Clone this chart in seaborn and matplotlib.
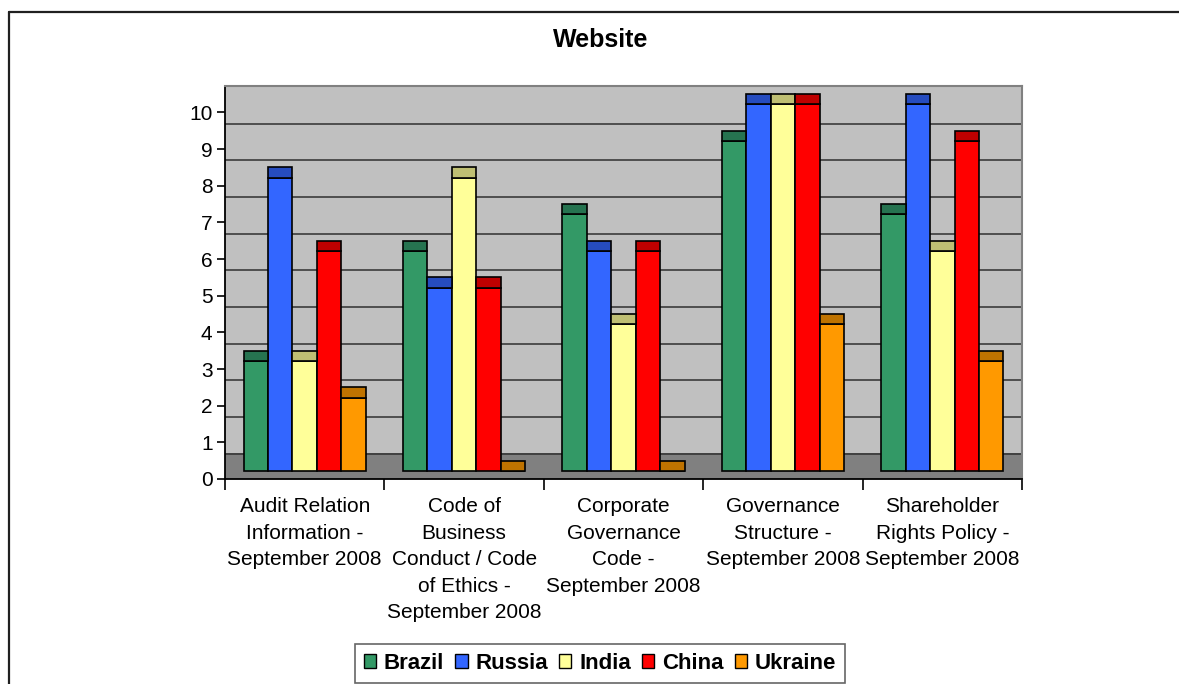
import matplotlib
matplotlib.use("Agg")
import matplotlib.pyplot as plt
from matplotlib.patches import Patch, Rectangle
from matplotlib.lines import Line2D
import numpy as np
import pandas as pd
import seaborn as sns

# --- data -----------------------------------------------------------------
categories = [
    "Audit Relation\nInformation -\nSeptember 2008",
    "Code of\nBusiness\nConduct / Code\nof Ethics -\nSeptember 2008",
    "Corporate\nGovernance\nCode -\nSeptember 2008",
    "Governance\nStructure -\nSeptember 2008",
    "Shareholder\nRights Policy -\nSeptember 2008",
]
countries = ["Brazil", "Russia", "India", "China", "Ukraine"]
brazil = [3, 6, 7, 9, 7]
russia = [8, 5, 6, 10, 10]
india = [3, 8, 4, 10, 6]
china = [6, 5, 6, 10, 9]
ukraine = [2, 0, 0, 4, 3]
y_ticks = list(range(0, 11))

front_colors = ["#339966", "#3366FF", "#FFFF99", "#FF0000", "#FF9900"]
top_colors = ["#267350", "#264CBF", "#BFBF73", "#BF0000", "#BF7300"]

series = {"Brazil": brazil, "Russia": russia, "India": india,
          "China": china, "Ukraine": ukraine}
df = pd.DataFrame(
    [(cat, c, v) for c in countries for cat, v in zip(categories, series[c])],
    columns=["category", "country", "value"],
)

# --- styling --------------------------------------------------------------
sns.set_style("white")
plt.rcParams["font.family"] = ["Liberation Sans", "DejaVu Sans"]
plt.rcParams["text.color"] = "black"
plt.rcParams["xtick.color"] = "black"
plt.rcParams["ytick.color"] = "black"
FS = 15

W, H = 1179, 684
fig = plt.figure(figsize=(W / 100, H / 100), dpi=100)
ax = fig.add_axes([225 / W, (H - 479) / H, (1022 - 225) / W, (479 - 86) / H])

floor_h = 0.70      # depth of the floor band
base = 0.22         # bars stand slightly above the axis on the floor
cap_h = 0.28        # visible top face of each bar
grid_shift = 0.31   # back-wall gridlines sit below the front tick marks

ax.set_facecolor("#C0C0C0")
ax.axhspan(0, floor_h, color="#808080", zorder=0.5, lw=0)
for k in y_ticks[1:]:
    ax.axhline(k - grid_shift, color="#303030", lw=1.1, zorder=0.6)

n_before = len(ax.patches)
sns.barplot(
    data=df, x="category", y="value", hue="country",
    hue_order=countries, order=categories, palette=front_colors,
    width=0.767, edgecolor="black", linewidth=1.2, saturation=1,
    legend=False, ax=ax, zorder=2, errorbar=None,
)
bars = list(ax.patches)[n_before:]

# lift each bar onto the floor and add its top face
for i, patch in enumerate(bars):
    ser = i // len(categories)
    h = patch.get_height()
    x0 = patch.get_x()
    w = patch.get_width()
    patch.set_y(base)
    patch.set_zorder(2)
    cap = Rectangle((x0, base + h), w, cap_h, facecolor=top_colors[ser],
                    edgecolor="black", lw=1.2, zorder=2.5)
    ax.add_patch(cap)

ax.set_xlim(-0.5, len(categories) - 0.5)
ax.set_ylim(0, 10.72)

# axes
ax.set_yticks(y_ticks)
ax.set_yticklabels([str(t) for t in y_ticks], fontsize=FS, color="black")
ax.tick_params(axis="y", direction="out", length=6, width=1.2, color="black",
               pad=3, left=True)
ax.set_xticks(np.arange(-0.5, len(categories)), labels=[""] * (len(categories) + 1))
ax.set_xticks(np.arange(len(categories)), labels=categories, minor=True)
ax.tick_params(axis="x", which="major", direction="out", length=8, width=1.2,
               color="black", bottom=True)
ax.tick_params(axis="x", which="minor", length=0, pad=13, labelsize=FS,
               labelcolor="black")
for lab in ax.get_xticklabels(minor=True):
    lab.set_multialignment("center")
    lab.set_linespacing(1.5)
ax.set_xlabel("")
ax.set_ylabel("")

for side in ["left", "bottom"]:
    ax.spines[side].set_color("black")
    ax.spines[side].set_linewidth(1.3)
for side in ["top", "right"]:
    ax.spines[side].set_color("#808080")
    ax.spines[side].set_linewidth(1.5)

# title
fig.text(601 / W, 1 - 40 / H, "Website", ha="center", va="center",
         fontsize=18, fontweight="bold", color="black")

# legend
handles = [Patch(facecolor=c, edgecolor="black", lw=1) for c in front_colors]
leg = fig.legend(
    handles, countries, loc="lower center", bbox_to_anchor=(600 / W, 1 / H),
    ncol=5, frameon=True, fancybox=False, edgecolor="#404040",
    prop={"size": 16, "weight": "bold"}, handlelength=0.55, handleheight=0.6,
    handletextpad=0.35, columnspacing=0.5, borderpad=0.4, borderaxespad=0,
    labelcolor="black",
)
leg.get_frame().set_linewidth(1.2)

# outer chart border
fig.add_artist(Line2D([9 / W, 1], [1 - 12 / H, 1 - 12 / H], color="#202020",
                      lw=1.6, transform=fig.transFigure))
fig.add_artist(Line2D([9 / W, 9 / W], [0, 1 - 12 / H], color="#202020",
                      lw=1.6, transform=fig.transFigure))

fig.savefig("out.png", dpi=100)
